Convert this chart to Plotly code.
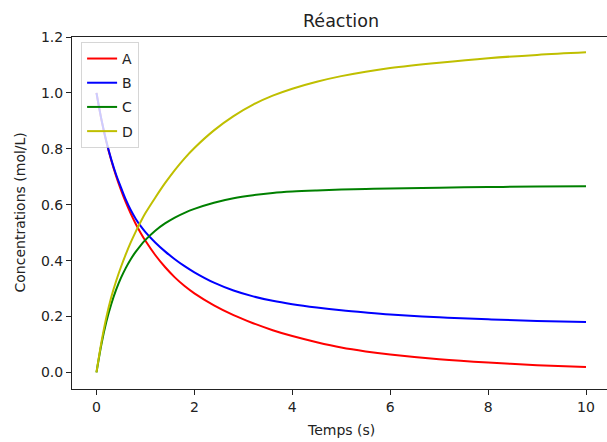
import plotly.graph_objects as go

# Time samples (s)
t = [0, 0.1, 0.2, 0.3, 0.4, 0.5, 0.6, 0.7, 0.8, 0.9, 1.0, 1.2, 1.4, 1.6, 1.8, 2.0,
     2.4, 2.8, 3.2, 3.6, 4.0, 4.5, 5.0, 5.5, 6.0, 7.0, 8.0, 9.0, 10.0]

# Concentrations (mol/L)
conc_A = [1.0, 0.905, 0.826, 0.760, 0.703, 0.653, 0.608, 0.568, 0.532, 0.500, 0.471,
          0.420, 0.377, 0.340, 0.309, 0.283, 0.240, 0.205, 0.176, 0.151, 0.130,
          0.108, 0.089, 0.075, 0.064, 0.047, 0.035, 0.026, 0.019]
conc_B = [1.0, 0.906, 0.828, 0.763, 0.708, 0.662, 0.618, 0.581, 0.550, 0.524, 0.502,
          0.465, 0.433, 0.405, 0.380, 0.358, 0.321, 0.293, 0.272, 0.256, 0.244,
          0.232, 0.222, 0.214, 0.207, 0.197, 0.190, 0.184, 0.180]
conc_C = [0.0, 0.100, 0.180, 0.243, 0.295, 0.338, 0.374, 0.405, 0.431, 0.454, 0.474,
          0.507, 0.533, 0.554, 0.571, 0.585, 0.607, 0.623, 0.634, 0.642, 0.647,
          0.651, 0.654, 0.656, 0.658, 0.661, 0.663, 0.665, 0.666]
conc_D = [0.0, 0.107, 0.196, 0.268, 0.326, 0.377, 0.423, 0.465, 0.503, 0.538, 0.570,
          0.625, 0.677, 0.724, 0.766, 0.803, 0.866, 0.917, 0.958, 0.990, 1.015,
          1.040, 1.060, 1.076, 1.089, 1.108, 1.124, 1.136, 1.145]

names = ["A", "B", "C", "D"]
series = [conc_A, conc_B, conc_C, conc_D]
colors = ["#ff0000", "#0000ff", "#008000", "#bfbf00"]

x_ticks = [0, 2, 4, 6, 8, 10]
y_ticks = [0.0, 0.2, 0.4, 0.6, 0.8, 1.0, 1.2]

FONT = "DejaVu Sans"

fig = go.Figure()
for n, s, c in zip(names, series, colors):
    fig.add_trace(go.Scatter(x=t, y=s, mode="lines", name=n, legendgroup=n,
                             line=dict(color=c, width=2, shape="spline", smoothing=1.0)))

W, H = 607, 442
ml, mr, mt, mb = 71.5, 0, 37.3, 52.7

fig.update_layout(
    width=W, height=H,
    margin=dict(l=ml, r=mr, t=mt, b=mb, pad=0),
    paper_bgcolor="white", plot_bgcolor="white",
    font=dict(family=FONT, size=14, color="#222222"),
    showlegend=True,
    legend=dict(x=0.017, y=0.986, xanchor="left", yanchor="top",
                bgcolor="rgba(255,255,255,0.8)", bordercolor="rgba(204,204,204,0.8)",
                borderwidth=1, traceorder="grouped", tracegroupgap=3,
                entrywidth=50, entrywidthmode="pixels",
                font=dict(family=FONT, size=14, color="#222222")),
    xaxis=dict(range=[-0.5, 10.429], tickmode="array", tickvals=x_ticks,
               ticktext=[str(v) for v in x_ticks],
               showgrid=False, zeroline=False, showline=True, mirror=True,
               linecolor="#222222", linewidth=1,
               ticks="outside", ticklen=5, tickwidth=1, tickcolor="#222222"),
    yaxis=dict(range=[-0.0594, 1.2], tickmode="array", tickvals=y_ticks,
               ticktext=[f"{v:.1f}" for v in y_ticks],
               showgrid=False, zeroline=False, showline=True, mirror=False,
               linecolor="#222222", linewidth=1,
               ticks="outside", ticklen=5, tickwidth=1, tickcolor="#222222"),
    annotations=[
        dict(text="Réaction", xref="paper", yref="paper", x=0.503, y=1,
             xanchor="center", yanchor="middle", yshift=16.5, showarrow=False,
             font=dict(family=FONT, size=17.5, color="#222222")),
        dict(text="Temps (s)", xref="paper", yref="paper", x=0.503, y=0,
             xanchor="center", yanchor="middle", yshift=-40.5, showarrow=False,
             font=dict(family=FONT, size=14, color="#222222")),
        dict(text="Concentrations (mol/L)", xref="paper", yref="paper", x=0, y=0.5,
             xanchor="center", yanchor="middle", xshift=-52.5, textangle=-90,
             showarrow=False, font=dict(family=FONT, size=14, color="#222222")),
    ],
)

fig.write_html("out.html")
